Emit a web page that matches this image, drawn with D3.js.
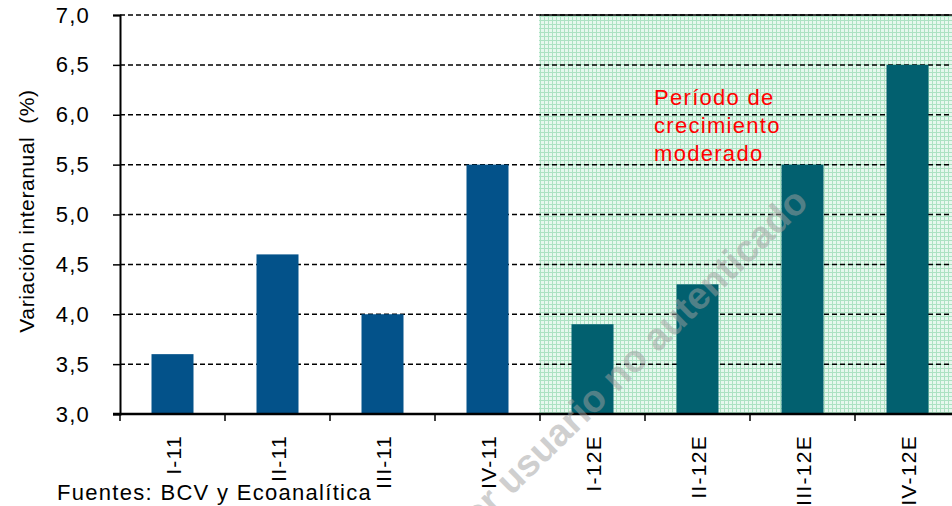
<!DOCTYPE html>
<html lang="es">
<head>
<meta charset="UTF-8">
<title>Variación interanual</title>
<script src="https://d3js.org/d3.v7.min.js"></script>
<style>
    body { margin: 0; background: #fff; }
    text { font-family: Arial, "Liberation Sans", sans-serif; fill: #000; }
</style>
</head>
<body>
<svg id="chart" width="952" height="506"></svg>
<script>
// data
const categories = ["I-11", "II-11", "III-11", "IV-11", "I-12E", "II-12E", "III-12E", "IV-12E"];
const values = [3.6, 4.6, 4.0, 5.5, 3.9, 4.3, 5.5, 6.5];
const yTicks = [3.0, 3.5, 4.0, 4.5, 5.0, 5.5, 6.0, 6.5, 7.0];
const shadeFrom = "I-12E";
const shadeLabel = ["Período de", "crecimiento", "moderado"];

const svg = d3.select("#chart");
const mLeft = 120, mRight = 960, mTop = 15, mBottom = 414;

const x = d3.scaleBand().domain(categories).range([mLeft, mRight])
    .paddingInner(0.6).paddingOuter(0.3);
const y = d3.scaleLinear().domain([3, 7]).range([mBottom, mTop]);

// dotted green pattern for the estimate period
const defs = svg.append("defs");
const pat = defs.append("pattern").attr("id", "dots")
    .attr("width", 4).attr("height", 4).attr("patternUnits", "userSpaceOnUse");
pat.append("rect").attr("width", 4).attr("height", 4).attr("fill", "#e6f8ee");
pat.append("rect").attr("width", 4).attr("height", 1).attr("fill", "#acE2c3");
pat.append("rect").attr("width", 1).attr("height", 4).attr("fill", "#acE2c3");

const shadeX = x(shadeFrom) - x.step() * x.paddingOuter();
svg.append("rect")
    .attr("x", shadeX - 1).attr("y", mTop)
    .attr("width", 952 - shadeX + 1).attr("height", mBottom - mTop)
    .attr("fill", "url(#dots)");
svg.append("line")
    .attr("x1", shadeX).attr("x2", 952).attr("y1", mTop).attr("y2", mTop)
    .attr("stroke", "#000").attr("stroke-width", 1.5);

// dashed gridlines
svg.append("g").selectAll("line")
    .data(yTicks.filter(d => d > 3))
    .join("line")
    .attr("x1", mLeft).attr("x2", 952)
    .attr("y1", d => y(d)).attr("y2", d => y(d))
    .attr("stroke", "#000").attr("stroke-width", 1.5)
    .attr("stroke-dasharray", "5,3");

// bars
const isEst = d => d.endsWith("E");
svg.append("g").selectAll("rect")
    .data(categories)
    .join("rect")
    .attr("x", d => x(d))
    .attr("width", x.bandwidth())
    .attr("y", (d, i) => y(values[i]))
    .attr("height", (d, i) => y(3) - y(values[i]))
    .attr("fill", d => isEst(d) ? "#02606f" : "#03528a");

// y axis
const yAxis = svg.append("g").attr("transform", `translate(${mLeft},0)`)
    .call(d3.axisLeft(y).tickValues(yTicks).tickSize(7).tickPadding(23)
        .tickFormat(d => d3.format(".1f")(d).replace(".", ",")));
yAxis.select(".domain").attr("stroke-width", 2);
yAxis.selectAll(".tick line").attr("stroke-width", 1.5);
yAxis.selectAll("text").attr("font-size", 22).attr("fill", "#000")
    .attr("letter-spacing", 1.2);

// x axis with ticks on band boundaries
svg.append("line")
    .attr("x1", mLeft - 7).attr("x2", 952).attr("y1", mBottom).attr("y2", mBottom)
    .attr("stroke", "#000").attr("stroke-width", 2.5);
svg.append("g").selectAll("line")
    .data(d3.range(categories.length + 1))
    .join("line")
    .attr("x1", i => mLeft + i * x.step()).attr("x2", i => mLeft + i * x.step())
    .attr("y1", mBottom).attr("y2", mBottom + 7)
    .attr("stroke", "#000").attr("stroke-width", 1.5);

svg.append("g").selectAll("text")
    .data(categories)
    .join("text")
    .attr("transform", d => `translate(${x(d) + x.bandwidth() / 2 + 8},435) rotate(-90)`)
    .attr("text-anchor", "end")
    .attr("font-size", 21)
    .attr("letter-spacing", 1.3)
    .text(d => d);

// axis title
svg.append("text")
    .attr("transform", "translate(34,211) rotate(-90)")
    .attr("text-anchor", "middle")
    .attr("font-size", 21)
    .attr("letter-spacing", 0.6)
    .attr("xml:space", "preserve")
    .style("white-space", "pre")
    .text("Variación interanual  (%)");

// red note
svg.append("g").selectAll("text")
    .data(shadeLabel)
    .join("text")
    .attr("x", 654).attr("y", (d, i) => 105 + i * 28)
    .attr("font-size", 22)
    .attr("letter-spacing", 1.3)
    .style("fill", "#ff0000")
    .text(d => d);

// source
svg.append("text")
    .attr("x", 57).attr("y", 500)
    .attr("font-size", 22)
    .attr("letter-spacing", 1.3)
    .text("Fuentes: BCV y Ecoanalítica");

// watermark
svg.append("text")
    .attr("transform", "translate(810,204) rotate(-44.4)")
    .attr("text-anchor", "end")
    .attr("font-size", 38)
    .attr("font-weight", "bold")
    .style("fill", "#a0a0a0")
    .attr("opacity", 0.5)
    .text("por usuario no autenticado");
</script>
</body>
</html>
